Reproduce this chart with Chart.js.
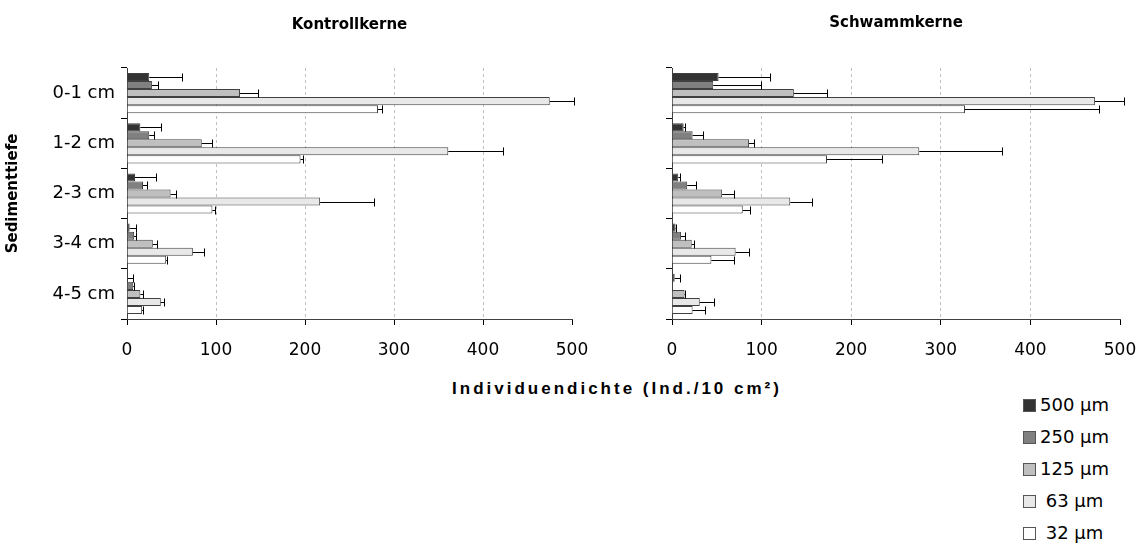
<!DOCTYPE html>
<html>
<head>
<meta charset="utf-8">
<script src="https://cdn.jsdelivr.net/npm/chart.js@4.4.1/dist/chart.umd.min.js"></script>
<style>
  body { margin: 0; background: #fff; }
  #wrap { position: relative; width: 1146px; height: 544px; overflow: hidden; }
  canvas { position: absolute; top: 0; }
  #xtitle {
    position: absolute; left: 317px; top: 379px; width: 600px; text-align: center;
    font: bold 17px "Liberation Sans", Arial, sans-serif; letter-spacing: 3px; line-height: 20px;
  }
  #legend { position: absolute; left: 1023px; top: 393px; font: 18px "DejaVu Sans", sans-serif; }
  #legend div { height: 32px; line-height: 24px; white-space: pre; }
  #legend span.box {
    display: inline-block; width: 11px; height: 11px; border: 1px solid #555;
    margin-right: 4px; vertical-align: -1px;
  }
</style>
</head>
<body>
<div id="wrap">
  <canvas id="chartLeft" width="600" height="372" style="left:0"></canvas>
  <canvas id="chartRight" width="546" height="372" style="left:600px"></canvas>
  <div id="xtitle">Individuendichte (Ind./10 cm²)</div>
  <div id="legend"></div>
</div>
<script>
const depths = ["0-1 cm", "1-2 cm", "2-3 cm", "3-4 cm", "4-5 cm"];
const sizes = ["500 µm", "250 µm", "125 µm", " 63 µm", " 32 µm"];
const sizeColors = ["#333333", "#808080", "#bfbfbf", "#e8e8e8", "#ffffff"];
const xTicks = [0, 100, 200, 300, 400, 500];

// Kontrollkerne: means per size class, then standard deviations
const kontroll500 = [25, 15, 9, 3, 1];
const kontroll250 = [28, 25, 18, 8, 7];
const kontroll125 = [127, 84, 49, 29, 15];
const kontroll63 = [475, 361, 217, 74, 38];
const kontroll32 = [282, 195, 96, 44, 17];
const kontrollSd500 = [37, 23, 24, 7, 6];
const kontrollSd250 = [7, 5, 4, 2, 1];
const kontrollSd125 = [20, 11, 6, 5, 3];
const kontrollSd63 = [27, 62, 60, 13, 4];
const kontrollSd32 = [4, 3, 3, 1, 1];

// Schwammkerne
const schwamm500 = [52, 13, 7, 4, 3];
const schwamm250 = [46, 23, 17, 10, 1];
const schwamm125 = [136, 86, 56, 22, 14];
const schwamm63 = [472, 276, 132, 71, 31];
const schwamm32 = [327, 173, 79, 44, 23];
const schwammSd500 = [57, 2, 2, 1, 6];
const schwammSd250 = [53, 12, 10, 5, 0];
const schwammSd125 = [37, 6, 13, 3, 1];
const schwammSd63 = [32, 92, 24, 15, 16];
const schwammSd32 = [150, 61, 8, 25, 14];

const errorBars = {
  id: "errorBars",
  afterDatasetsDraw(chart) {
    const ctx = chart.ctx;
    const xs = chart.scales.x;
    ctx.save();
    ctx.strokeStyle = "#000";
    ctx.lineWidth = 1;
    chart.data.datasets.forEach((ds, i) => {
      const meta = chart.getDatasetMeta(i);
      meta.data.forEach((bar, j) => {
        const sd = ds.sd[j];
        if (!sd) return;
        const x0 = xs.getPixelForValue(ds.data[j]);
        const x1 = xs.getPixelForValue(ds.data[j] + sd);
        const y = Math.round(bar.y) + 0.5;
        const h = bar.height / 2;
        const xe = Math.round(x1) + 0.5;
        ctx.beginPath();
        ctx.moveTo(x0, y);
        ctx.lineTo(xe, y);
        ctx.moveTo(xe, y - h);
        ctx.lineTo(xe, y + h);
        ctx.stroke();
      });
    });
    ctx.restore();
  }
};

function makeDatasets(values, sds) {
  return values.map((v, i) => ({
    label: sizes[i],
    data: v,
    sd: sds[i],
    backgroundColor: sizeColors[i],
    borderColor: "#404040",
    borderWidth: 1,
    categoryPercentage: 0.8,
    barPercentage: 1.0
  }));
}

function makeConfig(title, values, sds, yWidth, padRight, showLabels, titleTop) {
  return {
    type: "bar",
    data: { labels: depths, datasets: makeDatasets(values, sds) },
    plugins: [errorBars],
    options: {
      indexAxis: "y",
      responsive: false,
      animation: false,
      layout: { padding: { left: 0, right: padRight, top: 0, bottom: 0 } },
      plugins: {
        legend: { display: false },
        tooltip: { enabled: false },
        title: {
          display: true,
          text: title,
          fullSize: false,
          color: "#000",
          font: { family: "DejaVu Sans", size: 15, weight: "bold" },
          padding: { top: titleTop, bottom: 50 - titleTop }
        }
      },
      scales: {
        x: {
          min: 0,
          max: 500,
          afterBuildTicks: s => { s.ticks = xTicks.map(v => ({ value: v })); },
          afterFit: s => { s.height = 53; s.paddingLeft = 0; s.paddingRight = 0; },
          border: { color: "#404040", width: 1, dash: [3, 3] },
          grid: {
            color: c => (c.tick && (c.tick.value === 0 || c.tick.value === 500)) ? "rgba(0,0,0,0)" : "#c0c0c0",
            tickColor: "#000",
            tickBorderDash: [],
            tickLength: 6
          },
          ticks: {
            color: "#000",
            padding: 15,
            maxRotation: 0,
            font: { family: "DejaVu Sans", size: 17 }
          }
        },
        y: {
          afterFit: s => { s.width = yWidth; },
          border: { color: "#404040", width: 1 },
          grid: {
            offset: true,
            drawOnChartArea: false,
            tickColor: "#000",
            tickLength: 6
          },
          ticks: {
            display: showLabels,
            color: "#000",
            padding: 6,
            font: { family: "DejaVu Sans", size: 18 }
          },
          title: {
            display: showLabels,
            text: "Sedimenttiefe",
            color: "#000",
            font: { family: "DejaVu Sans", size: 15, weight: "bold" },
            padding: { top: 4, bottom: 0 }
          }
        }
      }
    }
  };
}

new Chart(document.getElementById("chartLeft"), makeConfig(
  "Kontrollkerne",
  [kontroll500, kontroll250, kontroll125, kontroll63, kontroll32],
  [kontrollSd500, kontrollSd250, kontrollSd125, kontrollSd63, kontrollSd32],
  127, 28, true, 16));

new Chart(document.getElementById("chartRight"), makeConfig(
  "Schwammkerne",
  [schwamm500, schwamm250, schwamm125, schwamm63, schwamm32],
  [schwammSd500, schwammSd250, schwammSd125, schwammSd63, schwammSd32],
  72, 26, false, 14));

const legend = document.getElementById("legend");
sizes.forEach((s, i) => {
  const row = document.createElement("div");
  const box = document.createElement("span");
  box.className = "box";
  box.style.background = sizeColors[i];
  row.appendChild(box);
  row.appendChild(document.createTextNode(s));
  legend.appendChild(row);
});
</script>
</body>
</html>
